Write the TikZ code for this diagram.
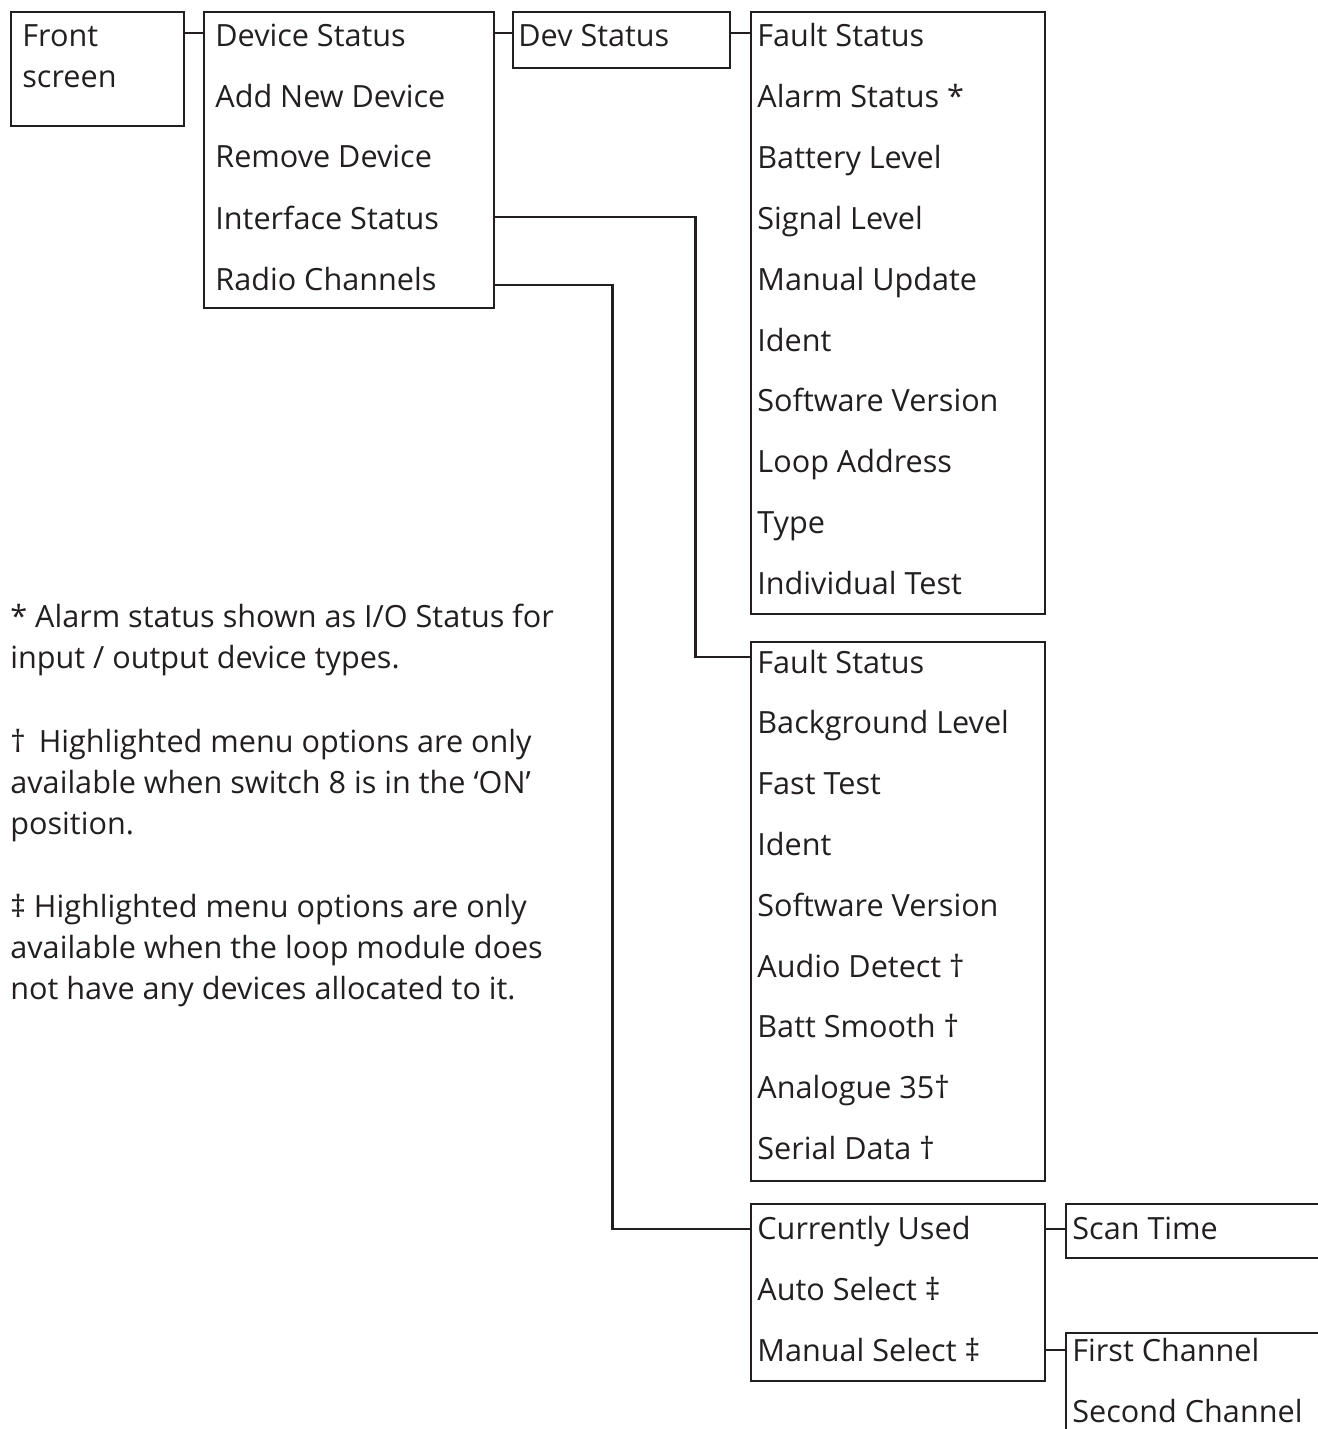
\documentclass[tikz,border=0pt]{standalone}
\usepackage{fontspec}
\setmainfont{Open Sans}
\usetikzlibrary{positioning}
\definecolor{ink}{HTML}{231F20}
\newcommand{\menufont}{\fontsize{15.3}{20.5}\selectfont}
\tikzset{
  box/.style  ={draw=ink, line width=1.2pt, anchor=north west, inner sep=0pt},
  entry/.style={anchor=base west, inner sep=0pt, text=ink, font=\menufont},
  note/.style ={entry, align=left},
  link/.style ={draw=ink, line width=1.2pt}
}

\begin{document}
\begin{tikzpicture}[x=0.5pt, y=-0.5pt]
  \useasboundingbox (0,0) rectangle (1317,1429);

  % menu boxes
  \node[box, minimum width=86.5pt, minimum height=57pt](front) at (10,11){};
  \node[box, minimum width=145pt,  minimum height=148pt](devmenu) at (203,11){};
  \node[box, minimum width=108.5pt,minimum height=28pt](devstat) at (512,11){};
  \node[box, minimum width=147pt,  minimum height=301pt](faultA) at (750,11){};
  \node[box, minimum width=147pt,  minimum height=269.5pt](faultB) at (750,641){};
  \node[box, minimum width=147pt,  minimum height=88.5pt](radio) at (750,1203){};
  \node[box, minimum width=140pt,  minimum height=27pt](scan) at (1065,1203){};
  \node[box, minimum width=140pt,  minimum height=60pt](chan) at (1065,1332){};

  % entries
  \node[entry, align=left](fs) at (22,88){Front\\screen};
  \node[entry](ds)  at (215,47){Device Status};
  \node[entry](add) at (215,108){Add New Device};
  \node[entry](rem) at (215,168){Remove Device};
  \node[entry](ifs) at (215,229){Interface Status};
  \node[entry](rch) at (215,290){Radio Channels};
  \node[entry](dst) at (518,47){Dev Status};
  \foreach \t [count=\i] in {Fault Status, Alarm Status *, Battery Level,
      Signal Level, Manual Update, Ident, Software Version, Loop Address,
      Type, Individual Test}
    \node[entry](a\i) at (757,{47+60.8*(\i-1)}){\t};
  \foreach \t [count=\i] in {Fault Status, Background Level, Fast Test,
      Ident, Software Version, Audio Detect †, Batt Smooth †,
      Analogue 35†, Serial Data †}
    \node[entry](b\i) at (757,{673+60.8*(\i-1)}){\t};
  \node[entry](cu) at (757,1239){Currently Used};
  \node[entry](as) at (757,1300){Auto Select ‡};
  \node[entry](ms) at (757,1361){Manual Select ‡};
  \node[entry](st) at (1072,1239){Scan Time};
  \node[entry](c1) at (1072,1361){First Channel};
  \node[entry](c2) at (1072,1422){Second Channel};

  % footnotes (base = last line)
  \node[note](n1) at (10,668){* Alarm status shown as I/O Status for\\input / output device types.};
  \node[note](n2) at (10,834){†\, Highlighted menu options are only\\available when switch 8 is in the ‘ON’\\position.};
  \node[note](n3) at (10,999){‡ Highlighted menu options are only\\available when the loop module does\\not have any devices allocated to it.};

  % connector heights
  \coordinate (r1) at ([yshift=7pt]ds.base);
  \coordinate (r2) at ([yshift=6pt]ifs.base);
  \coordinate (r3) at ([yshift=2.5pt]rch.base);
  \coordinate (r4) at ([yshift=8pt]b1.base);
  \coordinate (r5) at ([yshift=5pt]cu.base);
  \coordinate (r6) at ([yshift=5.5pt]ms.base);

  \draw[link](front.east |- r1) -- (devmenu.west |- r1);
  \draw[link](devmenu.east |- r1) -- (devstat.west |- r1);
  \draw[link](devstat.east |- r1) -- (faultA.west |- r1);
  \draw[link](devmenu.east |- r2) -- ++(200,0) |- (faultB.west |- r4);
  \draw[link](devmenu.east |- r3) -- ++(117,0) |- (radio.west |- r5);
  \draw[link](radio.east |- r5) -- (scan.west |- r5);
  \draw[link](radio.east |- r6) -- (chan.west |- r6);
\end{tikzpicture}
\end{document}
